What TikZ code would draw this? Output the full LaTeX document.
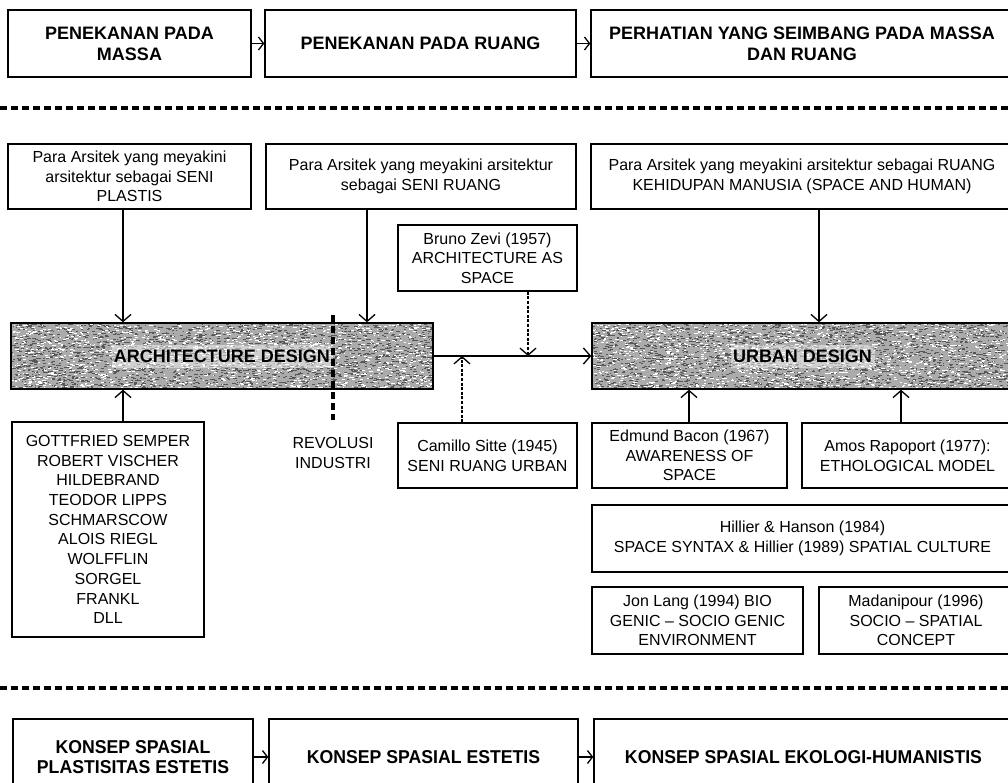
\documentclass[tikz,border=0pt]{standalone}
\usepackage{fontspec}
\setmainfont{Liberation Sans}
\newfontfamily\narrowbold{Liberation Sans}[FakeStretch=0.95,BoldFont={* Bold}]
\usetikzlibrary{arrows.meta,calc}
\newcommand\mybox[7]{\node[#1,minimum width={#4-#2},minimum height={#5-#3}] (#6) at ({(#2+#4)/2},{(#3+#5)/2}) {#7};}
\begin{document}
\begin{tikzpicture}[x=1pt,y=-1pt,
  box/.style={draw,line width=1.4pt,inner sep=0pt,align=center,
    font=\fontsize{16}{19.7}\selectfont},
  hbox/.style={box,font=\fontsize{18}{21}\selectfont\bfseries},
  nbox/.style={box,font=\fontsize{18.6}{20}\narrowbold\bfseries},
  shade/.style={box,fill=black!33,font=\fontsize{18}{21}\selectfont\bfseries,
    path picture={
      \foreach \i in {1,...,2600}{\fill[black!66] ($(path picture bounding box.north west)+({rnd*440},{rnd*70})$) rectangle +({1+rnd*3},1);}
      \foreach \i in {1,...,1500}{\fill[white] ($(path picture bounding box.north west)+({rnd*440},{rnd*70})$) rectangle +({1+rnd*2.5},1);}
      \fill[white,opacity=.45] ($(path picture bounding box.center)+(-#1,-11)$) rectangle ($(path picture bounding box.center)+(#1,12)$);
    }},
  arr/.style={line width=1.4pt,-{Straight Barb[length=7pt,width=16pt,line width=1.3pt]}},
  sarr/.style={line width=1.4pt,-{Straight Barb[length=5pt,width=13pt,line width=1.3pt]}},
  darr/.style={arr,dash pattern=on 3pt off 1.6pt},
  sep/.style={line width=3.2pt,dash pattern=on 7pt off 4pt},
  rev/.style={line width=3.6pt,dash pattern=on 7pt off 4pt}]
\pgfmathsetseed{4242}
\clip (0,0) rectangle (1008,782);
\fill[white] (0,0) rectangle (1008,782);
% top row
\mybox{hbox}{8}{10}{251}{77}{t1}{PENEKANAN PADA\\MASSA}
\mybox{hbox}{265}{10}{576}{77}{t2}{PENEKANAN PADA RUANG}
\mybox{hbox}{591}{10}{1013}{77}{t3}{PERHATIAN YANG SEIMBANG PADA MASSA\\DAN RUANG}
\draw[sarr] (t1) -- (t2);
\draw[sarr] (t2) -- (t3);
\coordinate (s1a) at (0,108);
\coordinate (s1b) at (1010,108);
\draw[sep] (s1a) -- (s1b);
% second row
\mybox{box}{8}{144}{251}{209}{pa}{Para Arsitek yang meyakini\\arsitektur sebagai SENI\\PLASTIS}
\mybox{box}{266}{144}{576}{209}{pb}{Para Arsitek yang meyakini arsitektur\\sebagai SENI RUANG}
\mybox{box}{591}{144}{1013}{209}{pc}{Para Arsitek yang meyakini arsitektur sebagai RUANG\\KEHIDUPAN MANUSIA (SPACE AND HUMAN)}
\mybox{box}{398}{225}{577}{291}{bz}{Bruno Zevi (1957)\\ARCHITECTURE AS\\SPACE}
% shaded
\mybox{shade=110}{11}{323}{433}{389}{ad}{ARCHITECTURE DESIGN}
\mybox{shade=72}{592}{323}{1013}{389}{ud}{URBAN DESIGN}
\draw[arr] (123,0 |- pa.south) -- (123,0 |- ad.north);
\draw[arr] (367,0 |- pb.south) -- (367,0 |- ad.north);
\draw[arr] (819,0 |- pc.south) -- (819,0 |- ud.north);
\draw[arr] (ad.east) -- (ud.west);
\draw[darr] (528,0 |- bz.south) -- (528,0 |- ad.east);
% revolusi
\node[font=\fontsize{16}{20.5}\selectfont,align=center] (ri) at (333,453) {REVOLUSI\\INDUSTRI};
\coordinate (rtop) at (333,315);
\coordinate (rbot) at (333,420);
\draw[rev] (rtop) -- (rbot);
% lower left
\mybox{box}{12}{422}{204}{637}{nm}{GOTTFRIED SEMPER\\ROBERT VISCHER\\HILDEBRAND\\TEODOR LIPPS\\SCHMARSCOW\\ALOIS RIEGL\\WOLFFLIN\\SORGEL\\FRANKL\\DLL}
\draw[arr] (123,0 |- nm.north) -- (123,0 |- ad.south);
\mybox{box}{398}{423}{577}{488}{cs}{Camillo Sitte (1945)\\SENI RUANG URBAN}
\draw[darr] (462,0 |- cs.north) -- (462,0 |- ad.east);
% lower right
\mybox{box}{592}{423}{787}{488}{eb}{Edmund Bacon (1967)\\AWARENESS OF\\SPACE}
\mybox{box}{802}{423}{1013}{488}{ar}{Amos Rapoport (1977):\\ETHOLOGICAL MODEL}
\draw[arr] (689,0 |- eb.north) -- (689,0 |- ud.south);
\draw[arr] (901,0 |- ar.north) -- (901,0 |- ud.south);
\mybox{box}{592}{505}{1013}{572}{hh}{Hillier \& Hanson (1984)\\SPACE SYNTAX \& Hillier (1989) SPATIAL CULTURE}
\mybox{box}{592}{587}{803}{654}{jl}{Jon Lang (1994) BIO\\GENIC -- SOCIO GENIC\\ENVIRONMENT}
\mybox{box}{819}{587}{1013}{654}{md}{Madanipour (1996)\\SOCIO -- SPATIAL\\CONCEPT}
% bottom separator
\coordinate (s2a) at (0,688);
\coordinate (s2b) at (1010,688);
\draw[sep] (s2a) -- (s2b);
% bottom row
\mybox{nbox}{13}{719}{253}{795}{k1}{KONSEP SPASIAL\\PLASTISITAS ESTETIS}
\mybox{nbox}{269}{719}{578}{795}{k2}{KONSEP SPASIAL ESTETIS}
\mybox{nbox}{594}{719}{1013}{795}{k3}{KONSEP SPASIAL EKOLOGI-HUMANISTIS}
\draw[sarr] (k1) -- (k2);
\draw[sarr] (k2) -- (k3);
\end{tikzpicture}
\end{document}
